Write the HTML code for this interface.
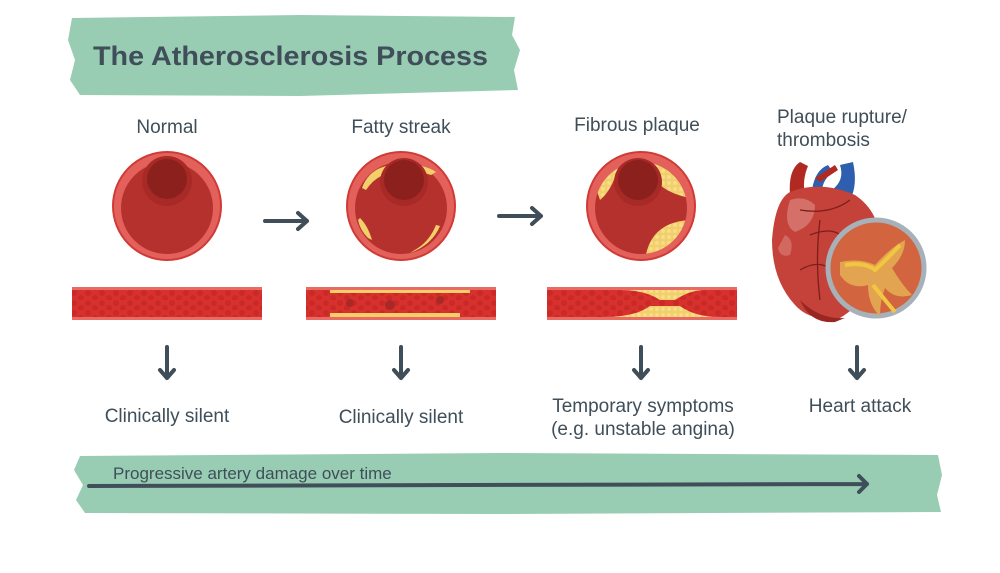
<!DOCTYPE html>
<html><head><meta charset="utf-8"><style>
html,body{margin:0;padding:0;background:#fff;width:1000px;height:573px;overflow:hidden}
svg{display:block}
text{font-family:"Liberation Sans",sans-serif;fill:#3f4e58}
</style></head><body>
<svg width="1000" height="573" viewBox="0 0 1000 573" xmlns="http://www.w3.org/2000/svg">
<defs>
<pattern id="cells" width="14" height="10" patternUnits="userSpaceOnUse">
<rect width="14" height="10" fill="#d8312d"/>
<circle cx="4" cy="3" r="3" fill="#c92a28"/><circle cx="11" cy="8" r="3" fill="#c92a28"/>
</pattern>
<pattern id="fat" width="6" height="6" patternUnits="userSpaceOnUse">
<rect width="6" height="6" fill="#f3cf6a"/><circle cx="3" cy="3" r="2" fill="#f7dd8c"/>
</pattern>
<clipPath id="c3"><circle cx="641" cy="208" r="46"/></clipPath>
<clipPath id="v3"><rect x="547" y="290" width="190" height="27"/></clipPath>
</defs>

<!-- title banner -->
<path d="M72,18 L300,15 L515,17 L512,35 L520,50 L514,70 L518,90 L300,96 L80,95 L70,80 L75,60 L68,40 Z" fill="#98cdb4"/>
<text x="93" y="65" font-size="27" font-weight="bold" textLength="395" lengthAdjust="spacingAndGlyphs">The Atherosclerosis Process</text>

<!-- labels -->
<text x="167" y="133" font-size="19" text-anchor="middle">Normal</text>
<text x="401" y="133" font-size="19" text-anchor="middle">Fatty streak</text>
<text x="637" y="131" font-size="19" text-anchor="middle">Fibrous plaque</text>
<text x="777" y="123" font-size="19">Plaque rupture/</text>
<text x="777" y="146" font-size="19">thrombosis</text>

<!-- normal circle -->
<circle cx="167" cy="206" r="54" fill="#e4605a" stroke="#cf3b36" stroke-width="2"/>
<circle cx="167" cy="208" r="46" fill="#b5312d"/>
<circle cx="167" cy="181" r="25" fill="#a82a27"/>
<circle cx="167" cy="179" r="20" fill="#8c201d"/>

<!-- fatty circle -->
<circle cx="401" cy="206" r="54" fill="#e4605a" stroke="#cf3b36" stroke-width="2"/>
<circle cx="401" cy="208" r="46" fill="#b5312d"/>
<path d="M362,188 Q370,165 400,164 Q425,164 436,172 L431,175 Q410,168 398,172 Q378,172 366,190Z" fill="#f3cf6a"/>
<path d="M360,218 Q368,226 372,240 L368,238 Q360,230 358,220Z" fill="#f3cf6a"/>
<path d="M440,226 Q432,245 410,253 L418,248 Q430,240 436,225Z" fill="#f3cf6a"/>
<circle cx="404" cy="182" r="24" fill="#a82a27"/>
<circle cx="404" cy="180" r="20" fill="#8c201d"/>

<!-- fibrous circle -->
<circle cx="641" cy="206" r="54" fill="#e4605a" stroke="#cf3b36" stroke-width="2"/>
<circle cx="641" cy="208" r="46" fill="#b5312d"/>
<g clip-path="url(#c3)">
<path d="M648,160 Q650,190 690,198 L700,150Z" fill="url(#fat)"/>
<path d="M645,260 Q650,222 690,220 L700,265Z" fill="url(#fat)"/>
<path d="M600,200 Q612,190 618,168 L590,170Z" fill="url(#fat)"/>
</g>
<circle cx="638" cy="182" r="24" fill="#a82a27"/>
<circle cx="638" cy="180" r="20" fill="#8c201d"/>

<!-- horizontal arrows -->
<g stroke="#3f4e58" stroke-width="4" stroke-linecap="round" stroke-linejoin="round" fill="none">
<path d="M265,221 L307,221 M298,213 L307,221 L298,229"/>
<path d="M499,216 L541,216 M532,208 L541,216 L532,224"/>
<!-- down arrows -->
<path d="M167,347 L167,378 M160,370 L167,378 L174,370"/>
<path d="M401,347 L401,378 M394,370 L401,378 L408,370"/>
<path d="M641,347 L641,378 M634,370 L641,378 L648,370"/>
<path d="M857,347 L857,378 M850,370 L857,378 L864,370"/>
</g>

<!-- vessels -->
<rect x="72" y="287" width="190" height="33" fill="#e86a62"/>
<rect x="72" y="290" width="190" height="27" fill="url(#cells)"/>
<rect x="306" y="287" width="190" height="33" fill="#e86a62"/>
<rect x="306" y="290" width="190" height="27" fill="url(#cells)"/>
<path d="M330,290 L470,290 L470,293 L330,293Z M330,313 L460,313 L460,317 L330,317Z" fill="#f3cf6a"/>
<circle cx="350" cy="303" r="4" fill="#a82a27"/><circle cx="390" cy="305" r="5" fill="#a82a27"/><circle cx="440" cy="300" r="4" fill="#a82a27"/>
<rect x="547" y="287" width="190" height="33" fill="#e86a62"/>
<rect x="547" y="290" width="190" height="27" fill="url(#cells)"/>
<g clip-path="url(#v3)">
<path d="M620,290 Q645,290 660,300 L675,300 Q690,290 705,290Z" fill="url(#fat)"/>
<path d="M605,317 Q635,317 650,306 L680,306 Q695,317 720,317Z" fill="url(#fat)"/>
</g>

<!-- heart -->
<path d="M790,195 Q788,170 800,162 L808,166 Q802,180 805,195Z" fill="#b12a22"/>
<path d="M812,190 Q815,170 828,165 L833,172 Q822,180 822,192Z" fill="#2e5fae"/>
<path d="M832,190 Q845,180 840,165 L853,162 Q858,185 850,200Z" fill="#2e5fae"/>
<path d="M815,178 L835,165 L838,170 L820,182Z" fill="#b12a22"/>
<path d="M790,192 Q820,180 855,195 Q885,215 880,260 Q870,300 840,318 Q810,322 795,305 Q772,280 772,240 Q775,200 790,192Z" fill="#c4423a"/>
<path d="M790,200 Q805,195 815,205 Q815,225 795,232 Q782,225 790,200Z" fill="#dc847c" opacity="0.7"/>
<path d="M785,235 Q795,240 790,255 Q780,258 778,248Z" fill="#dc847c" opacity="0.6"/>
<path d="M800,210 Q830,215 850,200 M810,235 Q835,225 845,240 M800,270 Q825,255 840,280 M820,220 Q815,260 820,300" fill="none" stroke="#7e1d19" stroke-width="1.3"/>
<path d="M800,300 Q820,320 845,318 L835,322 Q810,324 800,300Z" fill="#9a2621"/>
<!-- magnifier -->
<circle cx="876" cy="268" r="48" fill="#d2653f" stroke="#a6b1b9" stroke-width="5"/>
<path d="M840,262 Q860,258 875,265 Q890,248 905,240 Q905,255 892,268 Q902,285 912,295 Q895,300 885,288 Q880,300 880,316 Q868,305 868,285 Q850,290 840,275Z" fill="#e2a450"/>
<path d="M845,265 Q865,262 875,270 Q888,258 900,245" fill="none" stroke="#f2c640" stroke-width="4"/>
<path d="M873,285 Q885,300 895,312" fill="none" stroke="#f2c640" stroke-width="4"/>

<text x="167" y="422" font-size="19" text-anchor="middle">Clinically silent</text>
<text x="401" y="423" font-size="19" text-anchor="middle">Clinically silent</text>
<text x="643" y="412" font-size="19" text-anchor="middle">Temporary symptoms</text>
<text x="643" y="435" font-size="19" text-anchor="middle">(e.g. unstable angina)</text>
<text x="860" y="412" font-size="19" text-anchor="middle">Heart attack</text>

<!-- bottom banner -->
<path d="M80,456 L500,453 L938,455 L942,475 L937,495 L941,512 L500,514 L85,513 L76,500 L83,485 L74,470 Z" fill="#98cdb4"/>
<text x="113" y="479" font-size="17">Progressive artery damage over time</text>
<g stroke="#3f4e58" stroke-width="4" stroke-linecap="round" stroke-linejoin="round" fill="none">
<path d="M89,486 L867,484 M859,476 L867,484 L859,492"/>
</g>
</svg>
</body></html>
